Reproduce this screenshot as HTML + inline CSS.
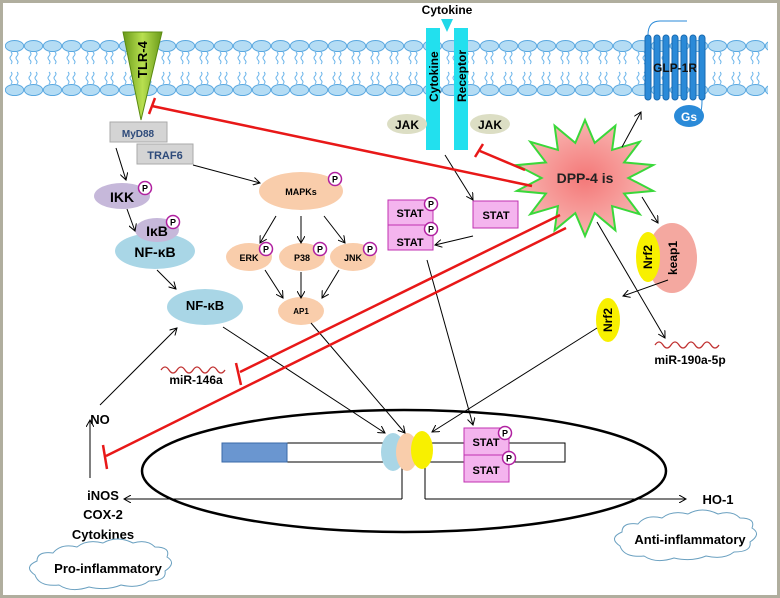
<!DOCTYPE html>
<html><head><meta charset="utf-8"><style>
html,body{margin:0;padding:0;background:#fff}
svg{display:block}
text{font-family:"Liberation Sans",sans-serif;font-weight:bold}
</style></head><body>
<svg id="s" width="780" height="598" viewBox="0 0 780 598" xmlns="http://www.w3.org/2000/svg">
<defs>
<pattern id="heads" x="5" y="0" width="19" height="598" patternUnits="userSpaceOnUse">
<ellipse cx="9.5" cy="46" rx="9.2" ry="5.5" fill="#b4dcf4" stroke="#5aa8e0" stroke-width="1"/>
<ellipse cx="9.5" cy="90" rx="9.2" ry="5.5" fill="#b4dcf4" stroke="#5aa8e0" stroke-width="1"/>
<path d="M6 52 q2 2 0 4 q-2 2 0 4 q2 2 0 4 M12 52 q2 2 0 4 q-2 2 0 4 q2 2 0 4 M6 72 q2 2 0 4 q-2 2 0 4 q2 2 0 4 M12 72 q2 2 0 4 q-2 2 0 4 q2 2 0 4" stroke="#6ab4ea" fill="none" stroke-width="1"/>
</pattern>
<marker id="ar" markerWidth="8" markerHeight="8" refX="7" refY="4" orient="auto" markerUnits="userSpaceOnUse"><path d="M0 0 L7 4 L0 8" fill="none" stroke="#000" stroke-width="1"/></marker>
<linearGradient id="tlr" x1="0" y1="0" x2="1" y2="0"><stop offset="0" stop-color="#6a9a1a"/><stop offset=".5" stop-color="#b8e050"/><stop offset="1" stop-color="#6a9a1a"/></linearGradient>
<radialGradient id="star"><stop offset="0" stop-color="#f47878"/><stop offset="1" stop-color="#f8b4b0"/></radialGradient>
</defs>
<rect x="1.5" y="1.5" width="777" height="595" fill="#fff" stroke="#b0ae9e" stroke-width="3"/>
<rect x="5" y="38" width="763" height="60" fill="url(#heads)"/>

<!-- TLR4 -->
<polygon points="123,32 162,32 141,120" fill="url(#tlr)" stroke="#5a8a10"/>
<text transform="translate(147,78) rotate(-90)" font-size="13">TLR-4</text>
<rect x="110" y="122" width="57" height="20" fill="#d4d4d4" stroke="#aaa"/>
<text x="138" y="137" font-size="10" fill="#2d4a7a" text-anchor="middle">MyD88</text>
<rect x="137" y="144" width="56" height="20" fill="#d4d4d4" stroke="#aaa"/>
<text x="165" y="159" font-size="11" fill="#2d4a7a" text-anchor="middle">TRAF6</text>

<!-- Cytokine receptor -->
<text x="447" y="14" font-size="12" text-anchor="middle">Cytokine</text>
<polygon points="441,19 453,19 447,32" fill="#20d8e8"/>
<rect x="426" y="28" width="14" height="122" fill="#22e0ee"/>
<rect x="454" y="28" width="14" height="122" fill="#22e0ee"/>
<text transform="translate(438,102) rotate(-90)" font-size="12">Cytokine</text>
<text transform="translate(466,102) rotate(-90)" font-size="12">Receptor</text>
<ellipse cx="407" cy="124" rx="20" ry="10" fill="#dcdec4"/><text x="407" y="129" font-size="12" text-anchor="middle">JAK</text>
<ellipse cx="490" cy="124" rx="20" ry="10" fill="#dcdec4"/><text x="490" y="129" font-size="12" text-anchor="middle">JAK</text>

<!-- GLP-1R -->
<g fill="#2a8ad8" stroke="#1a6ab0" stroke-width="1">
<rect x="645" y="35" width="6" height="65" rx="3"/><rect x="654" y="35" width="6" height="65" rx="3"/>
<rect x="663" y="35" width="6" height="65" rx="3"/><rect x="672" y="35" width="6" height="65" rx="3"/>
<rect x="681" y="35" width="6" height="65" rx="3"/><rect x="690" y="35" width="6" height="65" rx="3"/>
<rect x="699" y="35" width="6" height="65" rx="3"/>
</g>
<path d="M648 35 q0 -14 12 -14 h27 M702 100 q0 16 -5 16" stroke="#2a8ad8" fill="none"/>
<text x="675" y="72" font-size="12" text-anchor="middle" fill="#111">GLP-1R</text>
<ellipse cx="689" cy="116" rx="15" ry="11" fill="#2a8ad8"/>
<text x="689" y="121" font-size="12" text-anchor="middle" fill="#fff" font-weight="normal">Gs</text>

<!-- DPP-4 star -->
<polygon id="st" fill="url(#star)" stroke="#3ad83a" stroke-width="2"/>
<text x="585" y="183" font-size="14" text-anchor="middle" fill="#222">DPP-4 is</text>

<!-- IKK etc -->
<ellipse cx="122" cy="196" rx="28" ry="13" fill="#c6b8da"/><text x="122" y="202" font-size="14" text-anchor="middle">IKK</text>
<ellipse cx="155" cy="251" rx="40" ry="18" fill="#a9d6e6"/><text x="155" y="257" font-size="14" text-anchor="middle">NF-κB</text>
<ellipse cx="157" cy="230" rx="22" ry="12" fill="#c6b8da"/><text x="157" y="236" font-size="14" text-anchor="middle">IκB</text>
<ellipse cx="205" cy="307" rx="38" ry="18" fill="#a9d6e6"/><text x="205" y="310" font-size="13" text-anchor="middle">NF-κB</text>

<ellipse cx="301" cy="191" rx="42" ry="19" fill="#f9cdab"/><text x="301" y="195" font-size="9" text-anchor="middle">MAPKs</text>
<ellipse cx="249" cy="257" rx="23" ry="14" fill="#f9cdab"/><text x="249" y="261" font-size="9" text-anchor="middle">ERK</text>
<ellipse cx="302" cy="257" rx="23" ry="14" fill="#f9cdab"/><text x="302" y="261" font-size="9" text-anchor="middle">P38</text>
<ellipse cx="353" cy="257" rx="23" ry="14" fill="#f9cdab"/><text x="353" y="261" font-size="9" text-anchor="middle">JNK</text>
<ellipse cx="301" cy="311" rx="23" ry="14" fill="#f9cdab"/><text x="301" y="314" font-size="8" text-anchor="middle">AP1</text>

<!-- Nucleus -->
<ellipse cx="404" cy="471" rx="262" ry="61" fill="none" stroke="#000" stroke-width="2.5"/>
<rect x="222" y="443" width="343" height="19" fill="#fff" stroke="#000"/>
<rect x="222" y="443" width="65" height="19" fill="#6a96d0" stroke="#3a6aa8"/>
<line x1="402" y1="466" x2="402" y2="499" stroke="#000"/>
<line x1="425" y1="466" x2="425" y2="499" stroke="#000"/>
<ellipse cx="393" cy="452" rx="12" ry="19" fill="#a9d6e6"/>
<ellipse cx="407" cy="452" rx="11" ry="19" fill="#f9cdab"/>
<ellipse cx="422" cy="450" rx="11" ry="19" fill="#f8f000"/>

<!-- STAT boxes -->
<g fill="#f4b4ee" stroke="#c030b0" stroke-width="1">
<rect x="388" y="200" width="45" height="25"/><rect x="388" y="225" width="45" height="25"/>
<rect x="473" y="201" width="45" height="27"/>
<rect x="464" y="428" width="45" height="27"/><rect x="464" y="455" width="45" height="27"/>
</g>
<g font-size="11" text-anchor="middle">
<text x="410" y="217">STAT</text><text x="410" y="246">STAT</text><text x="496" y="219">STAT</text>
<text x="486" y="446">STAT</text><text x="486" y="474">STAT</text>
</g>

<!-- P circles -->
<g id="ps" fill="#fff" stroke="#b020a0" stroke-width="1.5"></g>

<!-- Nrf2 keap1 -->
<ellipse cx="672" cy="258" rx="25" ry="35" fill="#f4a8a0"/>
<text transform="translate(677,258) rotate(-90)" font-size="12" text-anchor="middle">keap1</text>
<ellipse cx="648" cy="257" rx="12" ry="25" fill="#f8f000"/>
<text transform="translate(652,257) rotate(-90)" font-size="12" text-anchor="middle">Nrf2</text>
<ellipse cx="608" cy="320" rx="12" ry="22" fill="#f8f000"/>
<text transform="translate(612,320) rotate(-90)" font-size="12" text-anchor="middle">Nrf2</text>

<!-- miRNA -->
<path d="M655 345 q4 -6 8 0 t8 0 t8 0 t8 0 t8 0 t8 0 t8 0 t8 0" stroke="#c03030" fill="none" stroke-width="1.3"/>
<text x="690" y="364" font-size="12" text-anchor="middle">miR-190a-5p</text>
<path d="M161 370 q4 -6 8 0 t8 0 t8 0 t8 0 t8 0 t8 0 t8 0 t8 0" stroke="#c03030" fill="none" stroke-width="1.3"/>
<text x="196" y="384" font-size="12" text-anchor="middle">miR-146a</text>

<g stroke="#000" fill="none" stroke-width="1" marker-end="url(#ar)">
<line x1="402" y1="499" x2="124" y2="499"/>
<path d="M425 499 H686"/>
<line x1="116" y1="148" x2="126" y2="180"/>
<line x1="193" y1="165" x2="260" y2="183"/>
<line x1="127" y1="209" x2="135" y2="231"/>
<line x1="157" y1="270" x2="176" y2="289"/>
<line x1="276" y1="216" x2="260" y2="243"/>
<line x1="301" y1="216" x2="301" y2="243"/>
<line x1="324" y1="216" x2="345" y2="243"/>
<line x1="265" y1="270" x2="283" y2="298"/>
<line x1="301" y1="272" x2="301" y2="298"/>
<line x1="339" y1="270" x2="322" y2="298"/>
<line x1="100" y1="405" x2="177" y2="328"/>
<line x1="90" y1="478" x2="90" y2="420"/>
<line x1="223" y1="327" x2="385" y2="433"/>
<line x1="311" y1="323" x2="405" y2="433"/>
<line x1="445" y1="155" x2="473" y2="200"/>
<line x1="473" y1="236" x2="435" y2="245"/>
<line x1="427" y1="260" x2="473" y2="425"/>
<line x1="597" y1="328" x2="432" y2="432"/>
<line x1="597" y1="222" x2="665" y2="338"/>
<line x1="622" y1="147" x2="641" y2="112"/>
<line x1="642" y1="197" x2="658" y2="223"/>
<line x1="668" y1="280" x2="623" y2="296"/>
</g>

<!-- red inhibitions -->
<g stroke="#e81818" stroke-width="2.5" fill="none">
<line x1="532" y1="186" x2="152" y2="106"/><line x1="149" y1="114" x2="155" y2="98"/>
<line x1="525" y1="170" x2="480" y2="151"/><line x1="475" y1="157" x2="483" y2="144"/>
<line x1="560" y1="215" x2="240" y2="372"/><line x1="236" y1="363" x2="241" y2="385"/>
<line x1="566" y1="228" x2="106" y2="456"/><line x1="103" y1="445" x2="107" y2="469"/>
</g>

<!-- text labels -->
<g font-size="13" text-anchor="middle">
<text x="100" y="424">NO</text>
<text x="103" y="500">iNOS</text>
<text x="103" y="519">COX-2</text>
<text x="103" y="539">Cytokines</text>
<text x="718" y="504">HO-1</text>
</g>

<!-- clouds -->
<path d="M35 575 q-12 -8 2 -14 q0 -10 16 -8 q8 -10 24 -6 q10 -8 26 -4 q14 -8 30 0 q14 -4 22 4 q16 0 12 10 q10 6 -2 14 q2 10 -16 10 q-10 8 -28 4 q-14 6 -32 2 q-18 6 -30 -2 q-20 2 -24 -10z" fill="#fff" stroke="#6aa0c0" stroke-width="1"/>
<text x="108" y="573" font-size="13" text-anchor="middle">Pro-inflammatory</text>
<path d="M620 546 q-12 -8 2 -14 q0 -10 16 -8 q8 -10 24 -6 q10 -8 26 -4 q14 -8 30 0 q14 -4 22 4 q16 0 12 10 q10 6 -2 14 q2 10 -16 10 q-10 8 -28 4 q-14 6 -32 2 q-18 6 -30 -2 q-20 2 -24 -10z" fill="#fff" stroke="#6aa0c0" stroke-width="1"/>
<text x="690" y="544" font-size="13" text-anchor="middle">Anti-inflammatory</text>
</svg>
<script>
(function(){
var p=[],cx=585,cy=178,n=14;
for(var i=0;i<2*n;i++){var a=Math.PI*i/n-Math.PI/2;var ro=i%2?0.62:1;p.push((cx+Math.cos(a)*70*ro).toFixed(1)+","+(cy+Math.sin(a)*58*ro).toFixed(1));}
document.getElementById("st").setAttribute("points",p.join(" "));
var P=[[145,188],[173,222],[335,179],[266,249],[320,249],[370,249],[431,204],[431,229],[505,433],[509,458]];
var g=document.getElementById("ps"),ns="http://www.w3.org/2000/svg";
P.forEach(function(q){var c=document.createElementNS(ns,"circle");c.setAttribute("cx",q[0]);c.setAttribute("cy",q[1]);c.setAttribute("r",6.5);g.appendChild(c);
var t=document.createElementNS(ns,"text");t.setAttribute("x",q[0]);t.setAttribute("y",q[1]+3.5);t.setAttribute("font-size","9");t.setAttribute("text-anchor","middle");t.setAttribute("fill","#000");t.setAttribute("stroke","none");t.textContent="P";g.appendChild(t);});
})();
</script>
</body></html>
